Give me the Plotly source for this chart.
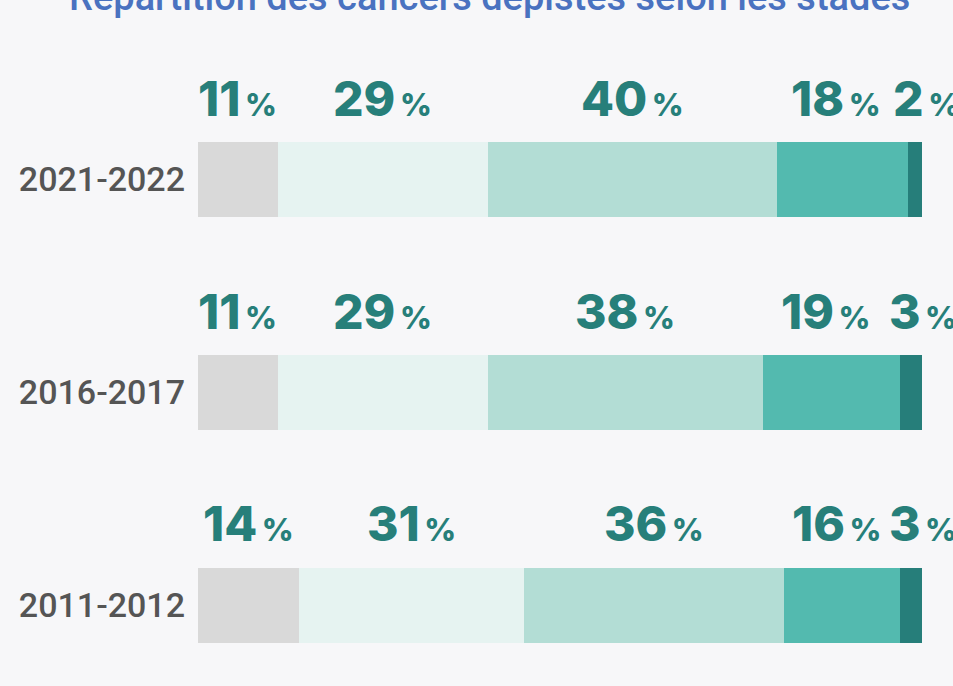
import plotly.graph_objects as go

title_text = "Répartition des cancers dépistés selon les stades"
periods = ["2021-2022", "2016-2017", "2011-2012"]
stages = ["Inconnu", "Stade 0", "Stade I", "Stade II", "Stade III/IV"]
values = {
    "Inconnu":      [11, 11, 14],
    "Stade 0":      [29, 29, 31],
    "Stade I":      [40, 38, 36],
    "Stade II":     [18, 19, 16],
    "Stade III/IV": [2, 3, 3],
}
colors = ["#d9d9d9", "#e6f3f1", "#b3ddd5", "#53baaf", "#267e7a"]

BG = "#f7f7f9"
LABEL_COLOR = "#277f7a"

fig = go.Figure()
for stage, col in zip(stages, colors):
    fig.add_trace(go.Bar(
        y=periods, x=values[stage], name=stage, orientation="h",
        marker=dict(color=col, line=dict(width=0)), width=0.35,
        hoverinfo="x+y+name",
    ))

# percentage labels above each segment
annotations = []
for i, p in enumerate(periods):
    cum = 0
    for j, stage in enumerate(stages):
        v = values[stage][i]
        mid = cum + v / 2
        cum += v
        xshift = 12 if j == len(stages) - 1 else (-6 if j == 3 else 0)
        annotations.append(dict(
            x=mid, y=p, xref="x", yref="y",
            text=f"{v}<span style='font-size:31px'>\u2009%</span>",
            showarrow=False, yanchor="bottom", xanchor="center",
            yshift=50, xshift=xshift,
            font=dict(family="Inter, Roboto, sans-serif", size=48,
                      color=LABEL_COLOR, weight=800),
        ))

annotations.append(dict(
    x=(912 - 198) / 724, y=1 - 21 / 686, xref="paper", yref="paper",
    text=title_text, showarrow=False, xanchor="right", yanchor="bottom",
    font=dict(family="Roboto, sans-serif", size=38, color="#4a72c0", weight=500),
))

fig.update_layout(
    width=953, height=686,
    margin=dict(l=198, r=31, t=0, b=0),
    paper_bgcolor=BG, plot_bgcolor=BG,
    barmode="stack", bargap=0,
    showlegend=False,
    annotations=annotations,
    xaxis=dict(range=[0, 100], visible=False, fixedrange=True),
    yaxis=dict(
        type="category", categoryorder="array", categoryarray=periods,
        range=[2.378, -0.843], showgrid=False, zeroline=False, showline=False,
        ticks="", ticklabelstandoff=12,
        tickfont=dict(family="Roboto, sans-serif", size=34, color="#555555",
                      weight=500),
    ),
)

fig.write_html("out.html")
